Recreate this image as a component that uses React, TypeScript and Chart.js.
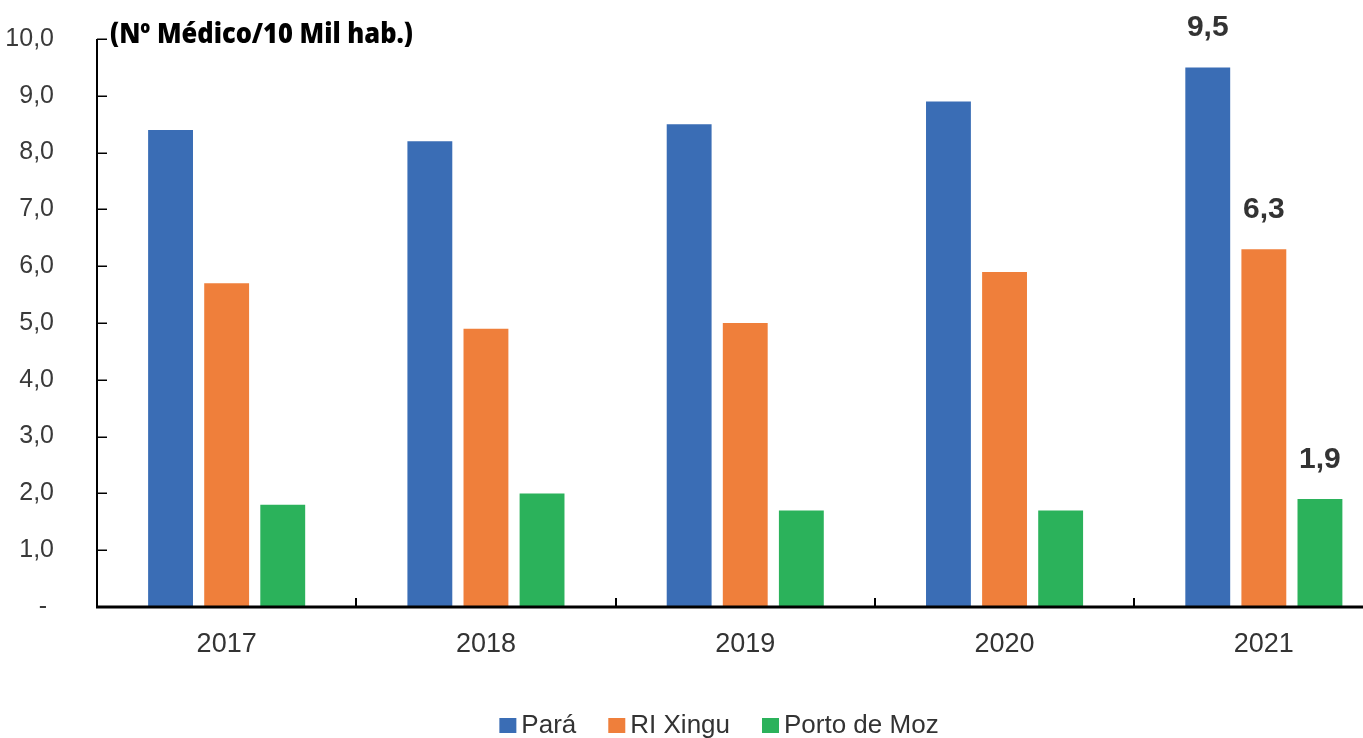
import React, { useEffect, useRef } from "react";
import { Chart, registerables } from "chart.js";

Chart.register(...registerables);

// Physicians per 10 thousand inhabitants
const years = ["2017", "2018", "2019", "2020", "2021"];
const para = [8.4, 8.2, 8.5, 8.9, 9.5];
const riXingu = [5.7, 4.9, 5.0, 5.9, 6.3];
const portoDeMoz = [1.8, 2.0, 1.7, 1.7, 1.9];

const seriesNames = ["Pará", "RI Xingu", "Porto de Moz"];
const seriesColors = ["#3a6db5", "#ef7f3b", "#2bb25b"];

const yTickValues = [0, 1, 2, 3, 4, 5, 6, 7, 8, 9, 10];
const labelledYear = "2021";
const unitTitle = "(Nº Médico/10 Mil hab.)";

const SANS = "'Liberation Sans', Arial, sans-serif";
const TEXT = "#333333";

const fmt = (v: number) => v.toFixed(1).replace(".", ",");

const decorations = {
  id: "decorations",
  afterDraw(chart: any) {
    const { ctx, chartArea } = chart;
    const x = chart.scales.x;
    const y = chart.scales.y;
    ctx.save();

    // axis lines with inward tick marks
    ctx.strokeStyle = "#000";
    ctx.lineWidth = 2;
    ctx.beginPath();
    ctx.moveTo(chartArea.left, chartArea.top);
    ctx.lineTo(chartArea.left, chartArea.bottom);
    ctx.stroke();

    ctx.lineWidth = 1.5;
    yTickValues.forEach((v) => {
      if (v === 0) return;
      const py = Math.round(y.getPixelForValue(v)) + 0.25;
      ctx.beginPath();
      ctx.moveTo(chartArea.left, py);
      ctx.lineTo(chartArea.left + 10, py);
      ctx.stroke();
    });

    ctx.lineWidth = 3;
    ctx.beginPath();
    ctx.moveTo(chartArea.left - 1, chartArea.bottom);
    ctx.lineTo(chartArea.right, chartArea.bottom);
    ctx.stroke();

    ctx.lineWidth = 2;
    for (let i = 0; i < years.length - 1; i++) {
      const bx = Math.round((x.getPixelForValue(i) + x.getPixelForValue(i + 1)) / 2);
      ctx.beginPath();
      ctx.moveTo(bx, chartArea.bottom);
      ctx.lineTo(bx, chartArea.bottom - 9);
      ctx.stroke();
    }

    // value labels on the latest year
    const idx = years.indexOf(labelledYear);
    ctx.fillStyle = TEXT;
    ctx.font = `bold 30px ${SANS}`;
    ctx.textAlign = "center";
    ctx.textBaseline = "alphabetic";
    chart.data.datasets.forEach((ds: any, di: number) => {
      const bar = chart.getDatasetMeta(di).data[idx];
      ctx.fillText(fmt(ds.data[idx]), bar.x, bar.y - 31);
    });

    // unit caption
    ctx.font = `800 28px 'Open Sans', sans-serif`;
    ctx.textAlign = "left";
    ctx.fillStyle = "#000";
    const w = ctx.measureText(unitTitle).width;
    ctx.save();
    ctx.translate(chartArea.left + 13, 43);
    ctx.scale(303 / w, 1);
    ctx.fillText(unitTitle, 0, 0);
    ctx.restore();

    // legend
    ctx.font = `26px ${SANS}`;
    ctx.textBaseline = "alphabetic";
    const box = 17;
    const gapText = 5;
    const gapItem = 32;
    const widths = seriesNames.map((n) => ctx.measureText(n).width);
    const total =
      widths.reduce((a, b) => a + b, 0) + seriesNames.length * (box + gapText) + gapItem * (seriesNames.length - 1);
    let lx = 719 - total / 2;
    seriesNames.forEach((n, i) => {
      ctx.fillStyle = seriesColors[i];
      ctx.fillRect(lx, 718, box, 15);
      ctx.fillStyle = TEXT;
      ctx.fillText(n, lx + box + gapText, 733);
      lx += box + gapText + widths[i] + gapItem;
    });

    ctx.restore();
  },
};

export default function App() {
  const ref = useRef<HTMLCanvasElement>(null);

  useEffect(() => {
    document.body.style.margin = "0";
    document.body.style.overflow = "hidden";
    const chart = new Chart(ref.current!, {
      type: "bar",
      data: {
        labels: years,
        datasets: [para, riXingu, portoDeMoz].map((data, i) => ({
          label: seriesNames[i],
          data,
          backgroundColor: seriesColors[i],
          borderWidth: 0,
          barPercentage: 0.8,
          categoryPercentage: 0.649,
        })),
      },
      options: {
        responsive: false,
        animation: false,
        layout: { padding: { top: 39, right: 6.5, bottom: 82, left: 0 } },
        plugins: { legend: { display: false }, tooltip: { enabled: false }, title: { display: false } },
        scales: {
          x: {
            grid: { display: false },
            border: { display: false },
            ticks: { color: TEXT, font: { family: SANS, size: 27 }, padding: 13 },
            afterFit: (s: any) => {
              s.height = 49;
              s.paddingLeft = 0;
              s.paddingRight = 0;
            },
          },
          y: {
            min: 0,
            max: 10,
            grid: { display: false },
            border: { display: false },
            afterBuildTicks: (s: any) => {
              s.ticks = yTickValues.map((v) => ({ value: v }));
            },
            ticks: {
              color: "#3a3a3a",
              font: { family: SANS, size: 25 },
              padding: 35,
              callback: (v: any) => (Number(v) === 0 ? "- " : fmt(Number(v))),
            },
            afterFit: (s: any) => {
              s.width = 97;
              s.paddingTop = 0;
              s.paddingBottom = 0;
            },
          },
        },
      },
      plugins: [decorations],
    });
    return () => chart.destroy();
  }, []);

  return (
    <div style={{ position: "fixed", left: 0, top: 0, width: 1363, height: 738, overflow: "hidden", background: "#fff" }}>
      <canvas ref={ref} width={1400} height={738} style={{ display: "block" }} />
    </div>
  );
}
